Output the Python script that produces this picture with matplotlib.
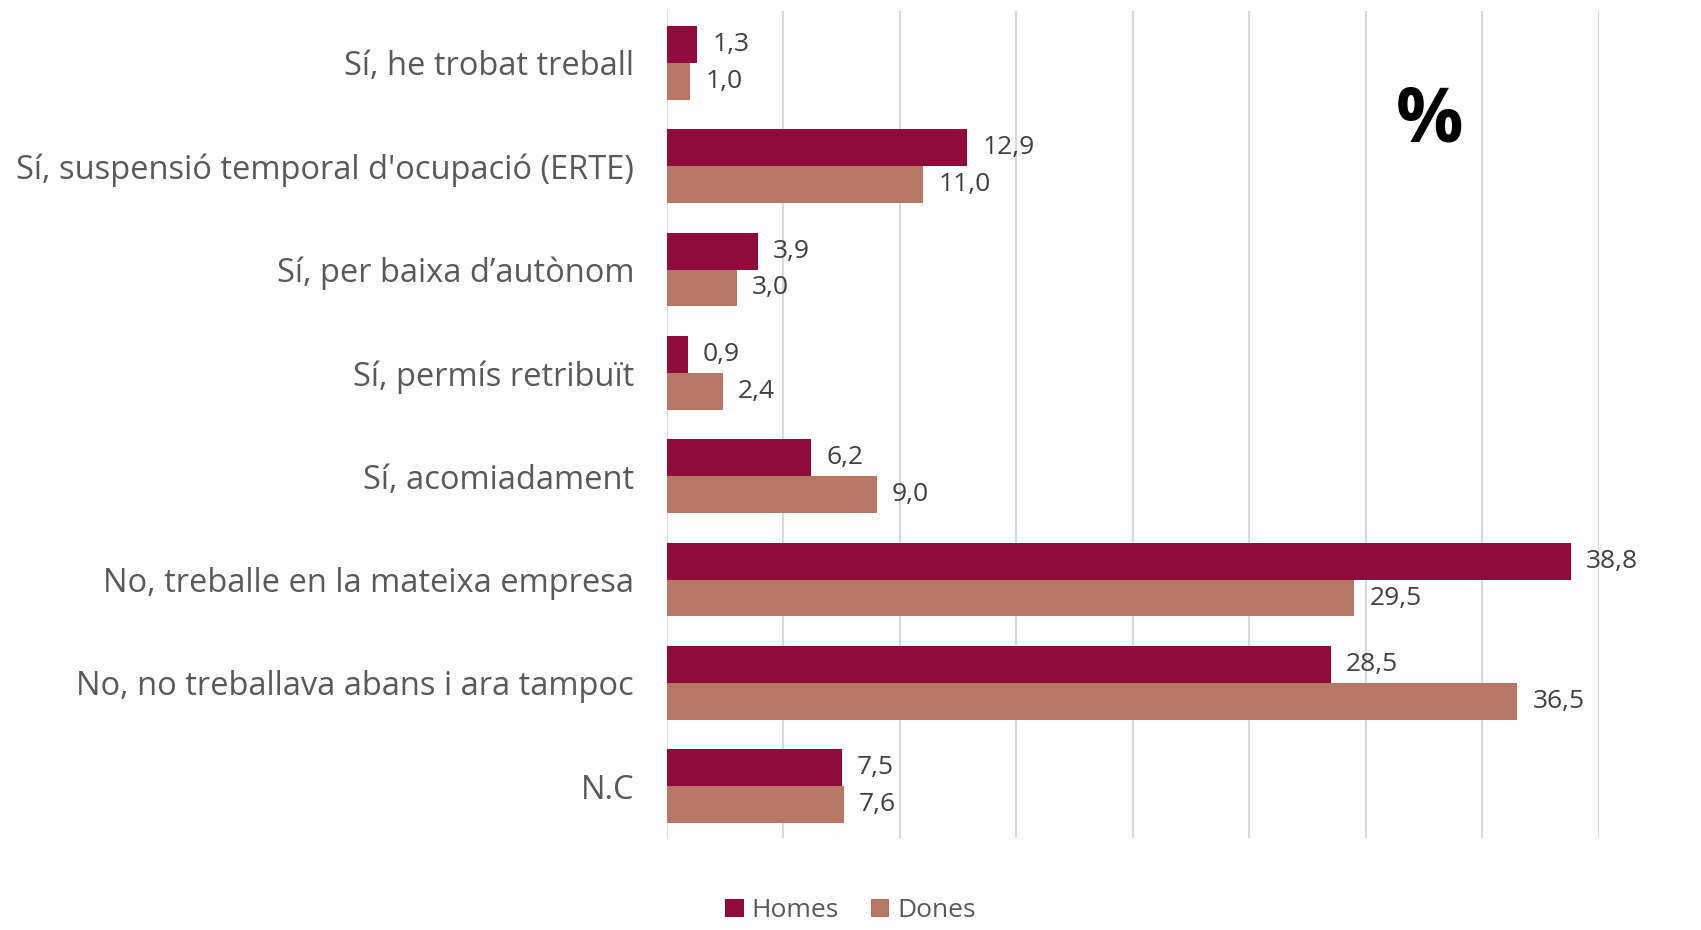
import numpy as np
import matplotlib.pyplot as plt

categories = ["Sí, he trobat treball",
              "Sí, suspensió temporal d'ocupació (ERTE)",
              "Sí, per baixa d\u2019autònom",
              "Sí, permís retribuït",
              "Sí, acomiadament",
              "No, treballe en la mateixa empresa",
              "No, no treballava abans i ara tampoc",
              "N.C"]
homes = [1.3, 12.9, 3.9, 0.9, 6.2, 38.8, 28.5, 7.5]
dones = [1.0, 11.0, 3.0, 2.4, 9.0, 29.5, 36.5, 7.6]
series_names = ["Homes", "Dones"]
colors = ["#8E0B3B", "#B87665"]
xticks = [0, 5, 10, 15, 20, 25, 30, 35, 40]

plt.rcParams['font.family'] = ['Open Sans', 'DejaVu Sans']

fig = plt.figure(figsize=(17.01, 9.30), dpi=100)
fig.patch.set_facecolor("#FDFDFD")
ax = fig.add_axes([0.392, 0.099, 0.548, 0.889])
ax.set_facecolor("none")

y = np.arange(len(categories))
h = 0.357
for vals, off, col, name in [(homes, -h / 2, colors[0], series_names[0]),
                             (dones, h / 2, colors[1], series_names[1])]:
    bars = ax.barh(y + off, vals, height=h, color=col, label=name, zorder=3)
    for b, v in zip(bars, vals):
        ax.text(b.get_width() + 0.65, b.get_y() + b.get_height() / 2,
                ("%.1f" % v).replace(".", ","), va="center", ha="left",
                fontsize=19, color="#404040", zorder=4)

ax.set_xlim(0, 40)
ax.set_ylim(len(categories) - 0.5, -0.5)
ax.set_xticks(xticks)
ax.xaxis.grid(True, color="#D9D9D9", linewidth=1.5, zorder=0)
ax.tick_params(axis="x", bottom=False, labelbottom=False)
ax.tick_params(axis="y", left=False, pad=20)
ax.set_yticks(y)
ax.set_yticklabels(categories, fontsize=23.5, color="#595959")
for s in ax.spines.values():
    s.set_visible(False)

ax.text(0.818, 0.866, "%", transform=ax.transAxes, fontsize=54,
        fontweight="bold", ha="center", va="center", color="black")

fig.legend(loc="lower center", bbox_to_anchor=(0.5, -0.018), ncol=2, frameon=False,
           fontsize=19, handlelength=0.7, handleheight=0.7, handletextpad=0.3,
           columnspacing=1.2, labelcolor="#595959")

fig.savefig("out.png", dpi=100, facecolor=fig.get_facecolor())
